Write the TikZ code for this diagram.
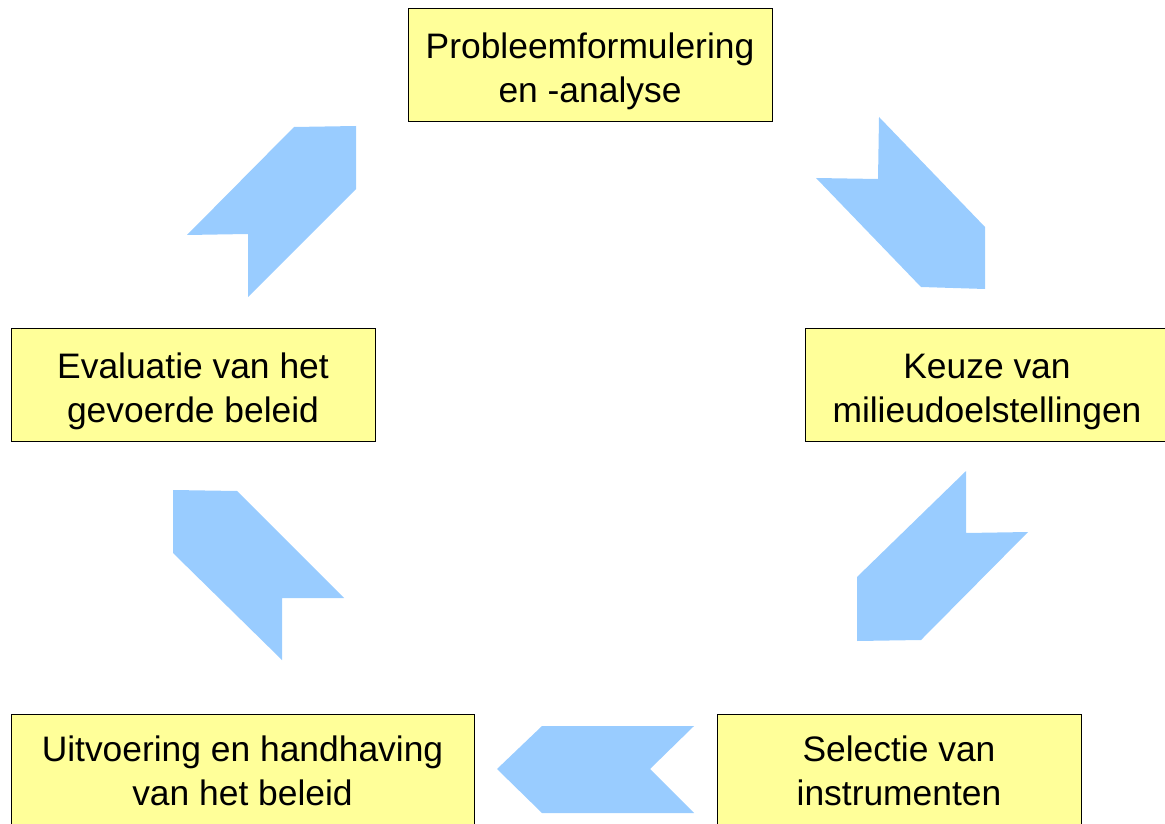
\documentclass[tikz,border=0pt]{standalone}
\usepackage{fontspec}
\setmainfont{Liberation Sans}
\definecolor{boxgeel}{RGB}{255,255,153}
\definecolor{pijlblauw}{RGB}{153,204,255}
\tikzset{
  stapbox/.style={draw=black, line width=0.5pt, fill=boxgeel, inner sep=0pt,
    minimum width=182pt, minimum height=56.5pt},
  staptekst/.style={inner sep=0pt, align=center, font=\fontsize{17.7}{22}\selectfont},
  pijl/.style={fill=pijlblauw, draw=none},
}
\begin{document}
\begin{tikzpicture}[x=0.5pt,y=0.5pt,yscale=-1,xscale=1]
\useasboundingbox (0,0) rectangle (1165,823);
\clip (0,0) rectangle (1165,823);

% Boxes
\node[stapbox] (probleem) at (590,65) {};
\node[stapbox] (keuze) at (987,384.5) {};
\node[stapbox] (evaluatie) at (193,384.5) {};
\node[stapbox, anchor=north, minimum width=231.5pt, minimum height=70pt] (uitvoering) at (242.5,714) {};
\node[stapbox, anchor=north, minimum height=70pt] (selectie) at (899,714) {};

% Text Nodes
\node[staptekst] (probleemtekst) at (590,71) {Probleemformulering\\en -analyse};
\node[staptekst] (keuzetekst) at (987,391.5) {Keuze van\\milieudoelstellingen};
\node[staptekst] (evaluatietekst) at (193,391.5) {Evaluatie van het\\gevoerde beleid};
\node[staptekst] (uitvoeringtekst) at (242.5,771) {Uitvoering en handhaving\\van het beleid};
\node[staptekst] (selectietekst) at (899,771) {Selectie van\\instrumenten};

%Shape: Arrow probleem -> keuze
\fill[pijl] (879,117) -- (985,227) -- (985,289) -- (921,287) -- (816,178) -- (878,179) -- cycle;
%Shape: Arrow keuze -> selectie
\fill[pijl] (966,471) -- (966,533) -- (1028,532) -- (921,640) -- (857,641) -- (857,577) -- cycle;
%Shape: Arrow selectie -> uitvoering
\fill[pijl] (542,726) -- (694,726) -- (650,769) -- (694,813) -- (542,813) -- (497,769) -- cycle;
%Shape: Arrow uitvoering -> evaluatie
\fill[pijl] (173,490) -- (237,491) -- (344,598) -- (282,598) -- (282,660) -- (173,553) -- cycle;
%Shape: Arrow evaluatie -> probleem
\fill[pijl] (187,235) -- (294,127) -- (356,126) -- (356,189) -- (248,297) -- (248,234) -- cycle;
\end{tikzpicture}
\end{document}
